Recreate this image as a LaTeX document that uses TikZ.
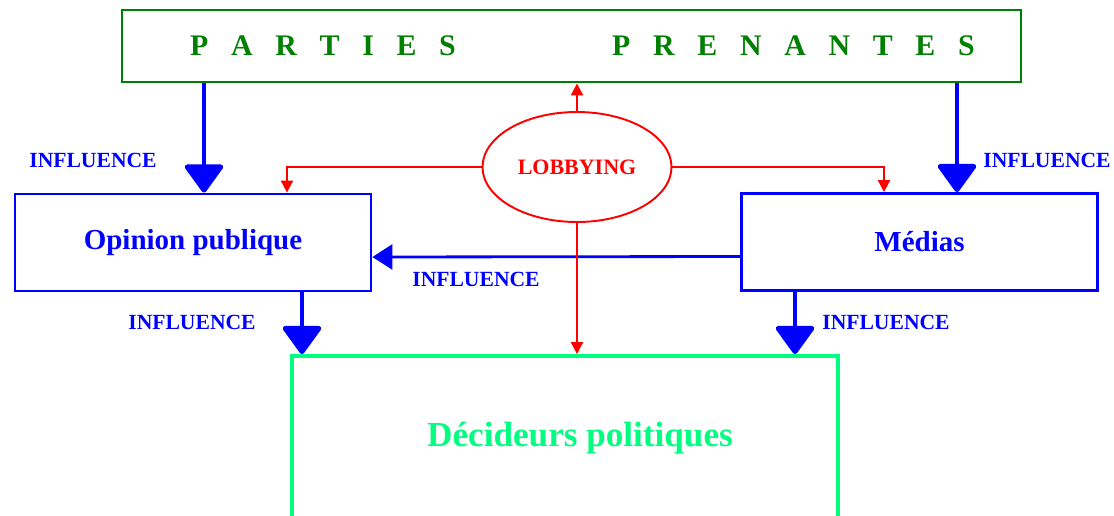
\documentclass[tikz,border=0pt]{standalone}
\usepackage{fontspec}
\setmainfont{Liberation Serif}
\usetikzlibrary{arrows.meta, shapes.geometric}

\definecolor{stakegreen}{RGB}{0,128,0}
\definecolor{decgreen}{RGB}{0,255,128}

\newcommand{\lettergap}{\kern0.454cm}

\tikzset{
	bluebox/.style = {draw = blue, line width = 1.6pt, text = blue,
		minimum width = 7.12cm, minimum height = 1.94cm,
		font = \bfseries\fontsize{16.5}{18}\selectfont},
	influence/.style = {text = blue, inner sep = 0pt,
		font = \bfseries\fontsize{12.3}{14}\selectfont},
	bigflow/.style = {blue, line width = 2.8pt,
		-{Triangle[round, width = 0.84cm, length = 0.6cm]}},
	sideflow/.style = {blue, line width = 1.6pt,
		-{Triangle[width = 0.5cm, length = 0.4cm]}},
	lobflow/.style = {red, line width = 1.1pt,
		-{Triangle[width = 0.24cm, length = 0.24cm]}}
}

\begin{document}
\begin{tikzpicture}
	
	% Page frame
	
	\useasboundingbox (0, 0) rectangle (22.28, -10.3);
	\clip (0, 0) rectangle (22.28, -10.3);
	
	% The actors
	
	\node [draw = stakegreen, line width = 1.6pt, text = stakegreen,
		minimum width = 17.98cm, minimum height = 1.44cm] (pp) at (11.43, -0.92) {};
	\node [text = stakegreen, font = \bfseries\fontsize{17}{19}\selectfont]
		(parties) at (6.46, -0.92)
		{P\lettergap A\lettergap R\lettergap T\lettergap I\lettergap E\lettergap S};
	\node [text = stakegreen, font = \bfseries\fontsize{17}{19}\selectfont]
		(prenantes) at (15.87, -0.92)
		{P\lettergap R\lettergap E\lettergap N\lettergap A\lettergap N\lettergap T\lettergap E\lettergap S};
	
	\node [bluebox] (op) at (3.86, -4.85) {Opinion publique};
	\node [bluebox] (med) at (18.39, -4.84) {Médias};
	
	\node [draw = decgreen, line width = 2.2pt, text = decgreen,
		minimum width = 10.92cm, minimum height = 3.28cm,
		font = \bfseries\fontsize{20}{22}\selectfont] (dec) at (11.3, -8.76)
		{\hspace*{0.6cm}Décideurs politiques};
	
	\node [ellipse, draw = red, line width = 1.1pt, text = red, inner sep = 0pt,
		minimum width = 3.78cm, minimum height = 2.2cm,
		font = \bfseries\fontsize{12.5}{14}\selectfont] (lob) at (11.54, -3.34) {LOBBYING};
	
	% Influence arrows
	
	\draw [bigflow] ([xshift = 0.22cm]op.north |- pp.south) -- ([xshift = 0.22cm]op.north);
	\draw [bigflow] ([xshift = 0.75cm]med.north |- pp.south) -- ([xshift = 0.75cm]med.north);
	\draw [bigflow] ([xshift = 2.18cm]op.south) -- ([xshift = 2.18cm]op.south |- dec.north);
	\draw [bigflow] ([xshift = -2.49cm]med.south) -- ([xshift = -2.49cm]med.south |- dec.north);
	\draw [sideflow] ([yshift = -0.29cm]med.west) -- ([yshift = -0.29cm]op.east);
	
	\node [influence] (inf1) at (1.86, -3.2) {INFLUENCE};
	\node [influence] (inf2) at (20.94, -3.2) {INFLUENCE};
	\node [influence] (inf3) at (9.52, -5.58) {INFLUENCE};
	\node [influence] (inf4) at (3.84, -6.44) {INFLUENCE};
	\node [influence] (inf5) at (17.72, -6.44) {INFLUENCE};
	
	% Lobbying arrows
	
	\draw [lobflow] (lob.north) -- (lob.north |- pp.south);
	\draw [lobflow] (lob.west) -| ([xshift = 1.88cm]op.north);
	\draw [lobflow] (lob.east) -| ([xshift = -0.71cm]med.north);
	\draw [lobflow] (lob.south) -- (lob.south |- dec.north);

\end{tikzpicture}
\end{document}
